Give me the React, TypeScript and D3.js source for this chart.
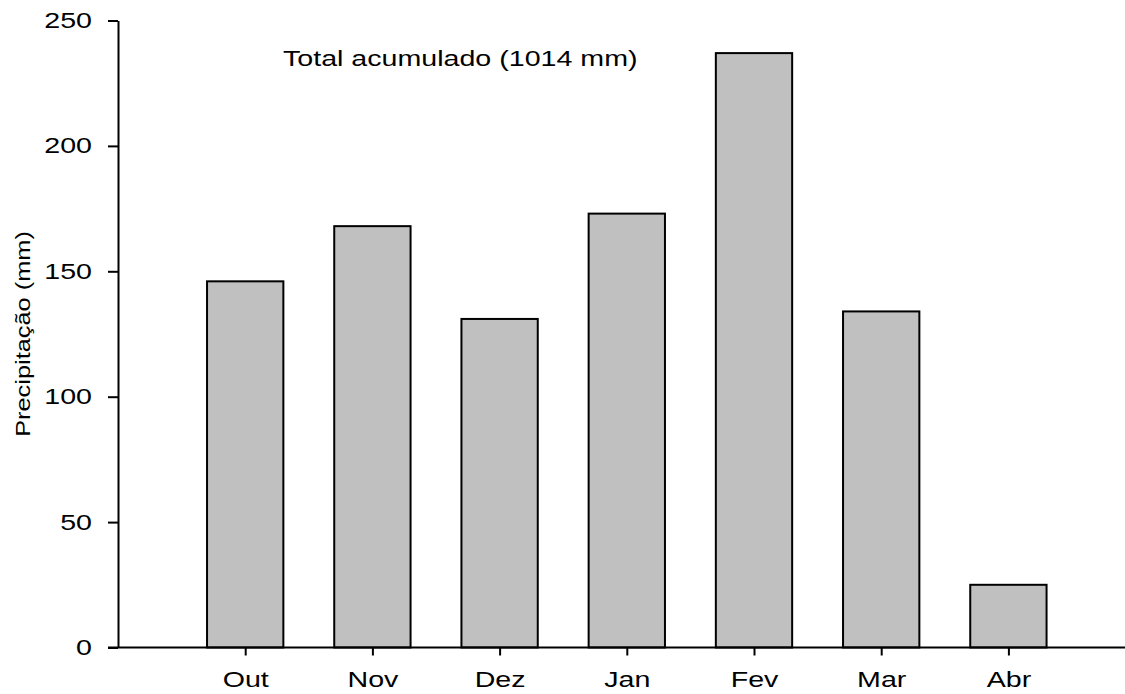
import React, {useRef, useEffect} from 'react'
import * as d3 from 'd3'

const months = ["Out", "Nov", "Dez", "Jan", "Fev", "Mar", "Abr"]
const rainfall = [146, 168, 131, 173, 237, 134, 25]
const yTicks = [0, 50, 100, 150, 200, 250]
const note = "Total acumulado (1014 mm)"
const yTitle = "Precipitação (mm)"

const layout = {width: 1125, height: 694}

export default function App() {
	const ref = useRef<SVGSVGElement>(null)

	useEffect(() => {
		const svg = d3.select(ref.current)
		svg.selectAll("*").remove()

		// x: month positions 1..7, y-axis sits at position 0
		const x = d3.scaleLinear().domain([0, 8]).range([118, 118 + 8 * 127.2])
		const y = d3.scaleLinear().domain([0, 250]).range([647.5, 20.5])
		const barW = (x(1) - x(0)) * 0.6

		const font = "'Liberation Sans', Arial, sans-serif"

		// bars
		svg.append("g")
			.selectAll("rect")
			.data(rainfall)
			.join("rect")
			.attr("x", (d, i) => x(i + 1) - barW / 2)
			.attr("width", barW)
			.attr("y", d => y(d))
			.attr("height", d => y(0) - y(d))
			.attr("fill", "#c0c0c0")
			.attr("stroke", "black")
			.attr("stroke-width", 2)

		// y axis
		const yAxis = svg.append("g")
			.attr("transform", `translate(${x(0)},0)`)
			.call(d3.axisLeft(y).tickValues(yTicks).tickSize(10).tickSizeOuter(0).tickPadding(16))
		yAxis.select(".domain").attr("stroke-width", 2)
		yAxis.selectAll(".tick line").attr("stroke-width", 2)
		yAxis.selectAll(".tick text")
			.attr("font-family", font)
			.attr("font-size", 22)
			.attr("fill", "black")

		// x axis
		const xAxis = svg.append("g")
			.attr("transform", `translate(0,${y(0)})`)
			.call(d3.axisBottom(x).tickValues(months.map((m, i) => i + 1))
				.tickFormat((d, i) => months[i]).tickSize(8).tickSizeOuter(0).tickPadding(16))
		xAxis.select(".domain").attr("d", `M${x(0) - 10},0H${layout.width}`).attr("stroke-width", 2)
		xAxis.selectAll(".tick line").attr("stroke-width", 2)
		xAxis.selectAll(".tick text")
			.attr("font-family", font)
			.attr("font-size", 22)
			.attr("fill", "black")

		// annotation
		svg.append("text")
			.attr("x", 283)
			.attr("y", 66)
			.attr("font-family", font)
			.attr("font-size", 22)
			.text(note)

		// y title
		svg.append("text")
			.attr("transform", `translate(30,${(y(0) + y(250)) / 2}) rotate(-90)`)
			.attr("text-anchor", "middle")
			.attr("font-family", font)
			.attr("font-size", 19.5)
			.text(yTitle)

		// the original glyphs are wider than Arial: stretch each text horizontally
		svg.selectAll<SVGTextElement, unknown>("text").each(function () {
			const w = this.getComputedTextLength()
			d3.select(this).attr("textLength", w * 1.3).attr("lengthAdjust", "spacingAndGlyphs")
		})
	}, [])

	return (
		<svg ref={ref} width={layout.width} height={layout.height}
			style={{position: "absolute", left: 0, top: 0, background: "white"}} />
	)
}
